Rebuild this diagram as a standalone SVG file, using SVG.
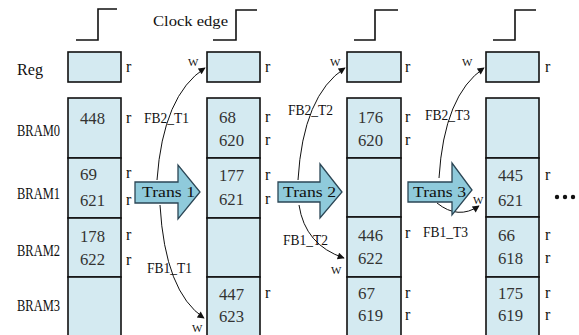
<svg xmlns="http://www.w3.org/2000/svg" width="579" height="335" viewBox="0 0 579 335">
<defs>
<style>
.cell{fill:#d4eaf1;stroke:#111;stroke-width:1.6}
.clk{fill:none;stroke:#111;stroke-width:1.6}
text{font-family:"Liberation Serif",serif}
.num{font-size:16px;fill:#333}
.r{font-size:16px;fill:#111}
.lbl{font-size:16px;fill:#111}
.sm{font-size:14px;fill:#111}
.w{font-size:11px;fill:#111}
.tr{fill:#8fcadb;stroke:#2b4655;stroke-width:1.3}
.trt{font-size:14px;fill:#111}
.fb{fill:none;stroke:#111;stroke-width:1;marker-end:url(#ah)}
</style>
<marker id="ah" viewBox="0 0 10 10" refX="9" refY="5" markerWidth="9" markerHeight="7" markerUnits="userSpaceOnUse" orient="auto">
<path d="M0,0 L10,5 L0,10 z" fill="#111"/>
</marker>
</defs>
<rect width="579" height="335" fill="#fff"/>

<g id="clock">
<path class="clk" d="M76,40 H98 V9 H117"/>
<path class="clk" d="M213,40 H236 V10 H257"/>
<path class="clk" d="M354,40 H375 V10 H398"/>
<path class="clk" d="M493,40 H515 V10 H536"/>
<text class="sm" x="153" y="26" textLength="75" lengthAdjust="spacingAndGlyphs">Clock edge</text>
</g>

<g id="row-labels">
<text class="lbl" x="17" y="75" textLength="26" lengthAdjust="spacingAndGlyphs">Reg</text>
<text class="lbl" x="17" y="136" textLength="43" lengthAdjust="spacingAndGlyphs">BRAM0</text>
<text class="lbl" x="17" y="199" textLength="43" lengthAdjust="spacingAndGlyphs">BRAM1</text>
<text class="lbl" x="17" y="256" textLength="43" lengthAdjust="spacingAndGlyphs">BRAM2</text>
<text class="lbl" x="17" y="311" textLength="43" lengthAdjust="spacingAndGlyphs">BRAM3</text>
</g>

<g id="col1">
<rect class="cell" x="68" y="52" width="53" height="30"/>
<text class="r" x="126" y="72">r</text>
<rect class="cell" x="68" y="98" width="53" height="60"/>
<rect class="cell" x="68" y="158" width="53" height="60"/>
<rect class="cell" x="68" y="218" width="53" height="59"/>
<rect class="cell" x="68" y="277" width="53" height="62"/>
<text class="num" x="80" y="124" textLength="25" lengthAdjust="spacingAndGlyphs">448</text>
<text class="r" x="126" y="123">r</text>
<text class="num" x="80" y="180" textLength="17" lengthAdjust="spacingAndGlyphs">69</text>
<text class="num" x="80" y="206" textLength="25" lengthAdjust="spacingAndGlyphs">621</text>
<text class="r" x="126" y="178">r</text>
<text class="r" x="126" y="205">r</text>
<text class="num" x="80" y="242" textLength="25" lengthAdjust="spacingAndGlyphs">178</text>
<text class="num" x="80" y="265" textLength="25" lengthAdjust="spacingAndGlyphs">622</text>
<text class="r" x="126" y="240">r</text>
<text class="r" x="126" y="265">r</text>
</g>

<g id="col2">
<rect class="cell" x="207" y="52" width="53" height="30"/>
<text class="r" x="265" y="72">r</text>
<rect class="cell" x="207" y="98" width="53" height="60"/>
<rect class="cell" x="207" y="158" width="53" height="60"/>
<rect class="cell" x="207" y="218" width="53" height="59"/>
<rect class="cell" x="207" y="277" width="53" height="62"/>
<text class="num" x="219" y="123" textLength="17" lengthAdjust="spacingAndGlyphs">68</text>
<text class="num" x="219" y="146" textLength="25" lengthAdjust="spacingAndGlyphs">620</text>
<text class="r" x="265" y="122">r</text>
<text class="r" x="265" y="145">r</text>
<text class="num" x="219" y="181" textLength="25" lengthAdjust="spacingAndGlyphs">177</text>
<text class="num" x="219" y="205" textLength="25" lengthAdjust="spacingAndGlyphs">621</text>
<text class="r" x="265" y="180">r</text>
<text class="r" x="265" y="204">r</text>
<text class="num" x="219" y="300" textLength="25" lengthAdjust="spacingAndGlyphs">447</text>
<text class="num" x="219" y="322" textLength="25" lengthAdjust="spacingAndGlyphs">623</text>
<text class="r" x="265" y="298">r</text>
</g>

<g id="col3">
<rect class="cell" x="347" y="52" width="54" height="30"/>
<text class="r" x="405" y="72">r</text>
<rect class="cell" x="347" y="98" width="54" height="60"/>
<rect class="cell" x="347" y="158" width="54" height="59"/>
<rect class="cell" x="347" y="217" width="54" height="60"/>
<rect class="cell" x="347" y="277" width="54" height="62"/>
<text class="num" x="358" y="123" textLength="25" lengthAdjust="spacingAndGlyphs">176</text>
<text class="num" x="358" y="146" textLength="25" lengthAdjust="spacingAndGlyphs">620</text>
<text class="r" x="405" y="122">r</text>
<text class="r" x="405" y="145">r</text>
<text class="num" x="358" y="241" textLength="25" lengthAdjust="spacingAndGlyphs">446</text>
<text class="num" x="358" y="264" textLength="25" lengthAdjust="spacingAndGlyphs">622</text>
<text class="r" x="405" y="238">r</text>
<text class="num" x="358" y="299" textLength="17" lengthAdjust="spacingAndGlyphs">67</text>
<text class="num" x="358" y="321" textLength="25" lengthAdjust="spacingAndGlyphs">619</text>
<text class="r" x="405" y="298">r</text>
<text class="r" x="405" y="320">r</text>
</g>

<g id="col4">
<rect class="cell" x="486" y="52" width="53" height="30"/>
<text class="r" x="545" y="72">r</text>
<rect class="cell" x="486" y="98" width="53" height="60"/>
<rect class="cell" x="486" y="158" width="53" height="59"/>
<rect class="cell" x="486" y="217" width="53" height="60"/>
<rect class="cell" x="486" y="277" width="53" height="62"/>
<text class="num" x="498" y="181" textLength="25" lengthAdjust="spacingAndGlyphs">445</text>
<text class="num" x="498" y="206" textLength="25" lengthAdjust="spacingAndGlyphs">621</text>
<text class="r" x="545" y="180">r</text>
<text class="num" x="498" y="241" textLength="17" lengthAdjust="spacingAndGlyphs">66</text>
<text class="num" x="498" y="264" textLength="25" lengthAdjust="spacingAndGlyphs">618</text>
<text class="r" x="545" y="240">r</text>
<text class="r" x="545" y="263">r</text>
<text class="num" x="498" y="299" textLength="25" lengthAdjust="spacingAndGlyphs">175</text>
<text class="num" x="498" y="321" textLength="25" lengthAdjust="spacingAndGlyphs">619</text>
<text class="r" x="545" y="298">r</text>
<text class="r" x="545" y="320">r</text>
<g id="ellipsis" fill="#111">
<circle cx="557" cy="197" r="2.2"/>
<circle cx="565" cy="197" r="2.2"/>
<circle cx="573" cy="197" r="2.2"/>
</g>
</g>

<g id="connectors">
<path class="fb" d="M157,180 Q163,95 205,68"/>
<path class="fb" d="M298,180 Q303,95 345,68"/>
<path class="fb" d="M439,178 Q444,95 484,68"/>
<path class="fb" d="M160,205 Q165,292 204,318"/>
<path class="fb" d="M299,205 Q305,245 344,258"/>
<path class="fb" d="M437,203 Q458,220 479,206"/>
</g>

<g id="trans1">
<path class="tr" d="M135,182 H178 V165 L200,192 L178,219 V203 H135 Z"/>
<text class="trt" x="142" y="197" textLength="53" lengthAdjust="spacingAndGlyphs">Trans 1</text>
</g>
<g id="trans2">
<path class="tr" d="M278,182 H320 V164 L342,192 L320,218 V202 H278 Z"/>
<text class="trt" x="283" y="197" textLength="53" lengthAdjust="spacingAndGlyphs">Trans 2</text>
</g>
<g id="trans3">
<path class="tr" d="M408,182 H452 V163 L472,190 L452,215 V202 H408 Z"/>
<text class="trt" x="413" y="197" textLength="53" lengthAdjust="spacingAndGlyphs">Trans 3</text>
</g>

<g id="fb-labels">
<text class="sm" x="144" y="123" textLength="45" lengthAdjust="spacingAndGlyphs">FB2_T1</text>
<text class="sm" x="288" y="115" textLength="45" lengthAdjust="spacingAndGlyphs">FB2_T2</text>
<text class="sm" x="425" y="120" textLength="45" lengthAdjust="spacingAndGlyphs">FB2_T3</text>
<text class="sm" x="147" y="273" textLength="45" lengthAdjust="spacingAndGlyphs">FB1_T1</text>
<text class="sm" x="283" y="245" textLength="45" lengthAdjust="spacingAndGlyphs">FB1_T2</text>
<text class="sm" x="423" y="237" textLength="45" lengthAdjust="spacingAndGlyphs">FB1_T3</text>
<text class="w" x="188" y="66">W</text>
<text class="w" x="330" y="66">W</text>
<text class="w" x="462" y="66">W</text>
<text class="w" x="192" y="332">W</text>
<text class="w" x="331" y="274">W</text>
<text class="w" x="473" y="204">W</text>
</g>
</svg>
